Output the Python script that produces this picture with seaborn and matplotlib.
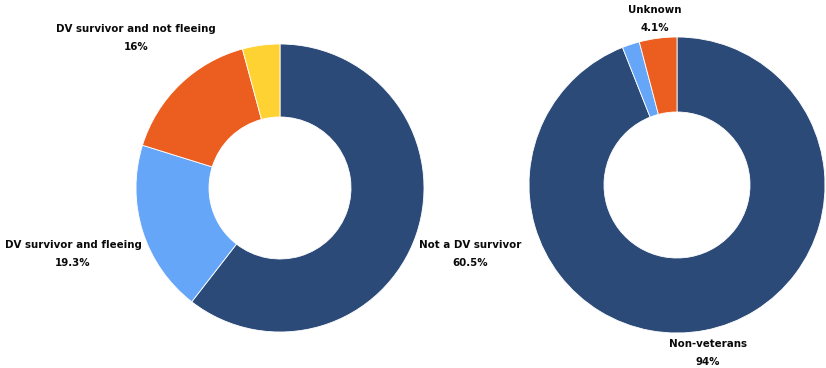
import matplotlib
matplotlib.use("Agg")
import matplotlib.pyplot as plt
import seaborn as sns

# Domestic violence status
dv_labels = ["Not a DV survivor", "DV survivor and fleeing", "DV survivor and not fleeing", "Unknown"]
dv_values = [60.5, 19.3, 16.0, 4.2]
dv_shown = [True, True, True, False]

# Veteran status
vet_labels = ["Non-veterans", "Veterans", "Unknown"]
vet_values = [94.0, 1.9, 4.1]
vet_shown = [True, False, True]

navy, sky, orange, yellow = "#2B4A78", "#66A6F8", "#EB5E1F", "#FFD233"
dv_colors = [navy, sky, orange, yellow]
vet_colors = [navy, sky, orange]

sns.set_theme(style="white")
plt.rcParams["font.family"] = ["DejaVu Sans"]

W, H = 826, 368
fig = plt.figure(figsize=(W / 100, H / 100), dpi=100)
ax = fig.add_axes([0, 0, 1, 1])

def donut(values, colors, center, radius, ring):
    ax.pie(values, colors=colors, startangle=90, counterclock=False,
           center=center, radius=radius, frame=True,
           wedgeprops=dict(width=ring, edgecolor="white", linewidth=0.6))

donut(dv_values, dv_colors, (280, H - 188), 144, 73)
donut(vet_values, vet_colors, (677, H - 185), 148, 75)

def label(text, value, x, y):
    ax.text(x, H - y, f"{text}\n{value:g}%", ha="center", va="center",
            fontsize=7.4, fontweight="bold", color="#0a0a0a", linespacing=1.9)

dv_pos = [(470, 254), (73, 254), (136, 38), None]
for t, v, s, p in zip(dv_labels, dv_values, dv_shown, dv_pos):
    if s:
        label(t, v, *p)

vet_pos = [(708, 353), None, (655, 19)]
for t, v, s, p in zip(vet_labels, vet_values, vet_shown, vet_pos):
    if s:
        label(t, v, *p)

ax.set_xlim(0, W)
ax.set_ylim(0, H)
ax.set_aspect("equal")
ax.axis("off")
fig.savefig("out.png", dpi=100, facecolor="white")
